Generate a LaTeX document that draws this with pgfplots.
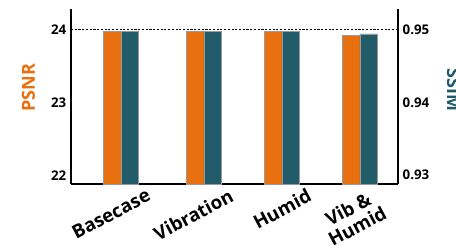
\documentclass[border=0pt]{standalone}
\usepackage{pgfplots}
\pgfplotsset{compat=1.18}
\usepackage{fontspec}
\setmainfont{Open Sans}
\definecolor{psnrorange}{HTML}{E8700F}
\definecolor{ssimteal}{HTML}{215A68}
\definecolor{barborder}{HTML}{9A9A9A}
\pgfplotstableread{
x psnr ssim
0.00 23.97 0.9497
1.04 23.97 0.9497
2.02 23.97 0.9497
3.00 23.92 0.9494
}\datatable
\begin{document}
\begin{tikzpicture}
\begin{axis}[
  at={(0,0)}, anchor=south west,
  scale only axis, width=245.25pt, height=131.25pt,
  xmin=-0.63, xmax=3.48, ymin=21.88, ymax=24.28,
  axis x line*=bottom, axis y line*=left,
  axis line style={line width=1.6pt, black, -},
  ytick={22,23,24}, major tick length=0pt,
  xtick={0,1.04,2.02,2.85},
  xticklabels={Basecase, Vibration, Humid, {Vib \&\\Humid}},
  xticklabel style={font=\fontsize{14}{14.5}\selectfont\bfseries, rotate=28, anchor=north east, align=center, inner sep=0pt, xshift=15pt, yshift=-11pt},
  yticklabel style={font=\fontsize{10}{11}\selectfont\bfseries},
  /pgf/number format/assume math mode=true,
  ylabel={PSNR},
  ylabel style={at={(rel axis cs:-0.13,0.549)}, anchor=center, font=\fontsize{13.5}{14}\selectfont\bfseries, text=psnrorange},
  clip=false,
]
\addplot[ybar, bar width=0.22, bar shift=-0.11, fill=psnrorange, draw=barborder, line width=0.4pt] table[x=x, y=psnr] {\datatable};
\addplot[black, line width=0.6pt, dash pattern=on 1.6pt off 1.2pt] coordinates {(-0.63,24) (3.48,24)};
\end{axis}
\begin{axis}[
  at={(0,0)}, anchor=south west,
  scale only axis, width=245.25pt, height=131.25pt,
  xmin=-0.63, xmax=3.48, ymin=0.9288, ymax=0.9528,
  axis x line=none, axis y line*=right,
  axis line style={line width=1.6pt, black, -},
  ytick={0.93,0.94,0.95}, major tick length=0pt,
  yticklabel style={font=\fontsize{10}{11}\selectfont\bfseries, /pgf/number format/fixed, /pgf/number format/precision=2},
  /pgf/number format/assume math mode=true,
  ylabel={SSIM},
  ylabel style={at={(rel axis cs:1.17,0.537)}, anchor=center, rotate=-180, font=\fontsize{13.5}{14}\selectfont\bfseries, text=ssimteal},
  clip=false,
]
\addplot[ybar, bar width=0.22, bar shift=0.11, fill=ssimteal, draw=barborder, line width=0.4pt] table[x=x, y=ssim] {\datatable};
\end{axis}
\pgfresetboundingbox
\path[use as bounding box] (-53.25pt,-51pt) rectangle (288.75pt,138pt);
\end{tikzpicture}
\end{document}
